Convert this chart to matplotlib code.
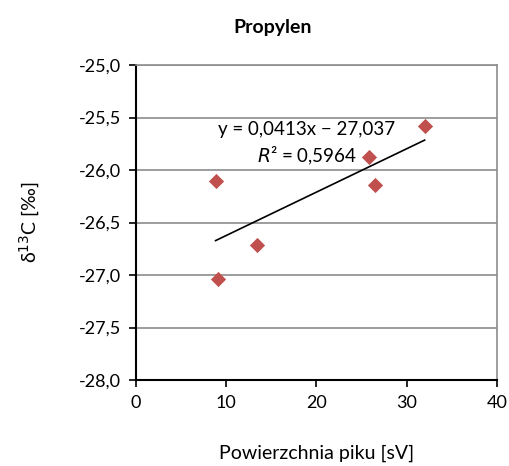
import matplotlib.pyplot as plt
import numpy as np
from matplotlib.ticker import FuncFormatter, MultipleLocator

plt.rcParams['font.family'] = ['Lato', 'DejaVu Sans']

# peak area [sV] and delta 13C [permil]
area = [8.83, 9.05, 13.4, 25.8, 26.5, 32.0]
d13c = [-26.10, -27.04, -26.71, -25.88, -26.14, -25.58]
slope = 0.0413
intercept = -27.037
r2 = 0.5964

fig = plt.figure(figsize=(5.09, 4.66), dpi=100)
ax = fig.add_axes([0.267, 0.1845, 0.709, 0.676])

ax.set_xlim(0, 40)
ax.set_ylim(-28, -25)
ax.xaxis.set_major_locator(MultipleLocator(10))
ax.yaxis.set_major_locator(MultipleLocator(0.5))
ax.yaxis.set_major_formatter(FuncFormatter(lambda v, p: '{:.1f}'.format(v).replace('.', ',')))

ax.yaxis.grid(True, color='#8c8c8c', linewidth=1.2)
ax.set_axisbelow(True)
for s in ['top', 'right']:
    ax.spines[s].set_color('#8c8c8c')
    ax.spines[s].set_linewidth(1.2)
for s in ['left', 'bottom']:
    ax.spines[s].set_linewidth(1.5)
ax.tick_params(direction='out', length=5, width=1.2, labelsize=13, pad=6)

xs = np.array([min(area), max(area)])
ax.plot(xs, slope * xs + intercept, color='black', linewidth=1.2, zorder=2)
ax.scatter(area, d13c, marker='D', s=60, color='#C0504D', zorder=3, linewidths=0)

ax.text(18.9, -25.61, 'y = 0,0413x \u2212 27,037', ha='center', va='center', fontsize=13.5)
ax.text(19.0, -25.87, '$R$\u00b2 = 0,5964', ha='center', va='center', fontsize=13.5)

# title is centred on the whole chart, not the plot area
fig.text(0.536, 0.94, 'Propylen', ha='center', va='center', fontsize=14, fontweight='bold')
ax.set_xlabel('Powierzchnia piku [sV]', fontsize=14, labelpad=24)
ax.set_ylabel('\u03b4$^{13}$C [\u2030]', fontsize=14, labelpad=26)

plt.savefig('out.png', dpi=100)
